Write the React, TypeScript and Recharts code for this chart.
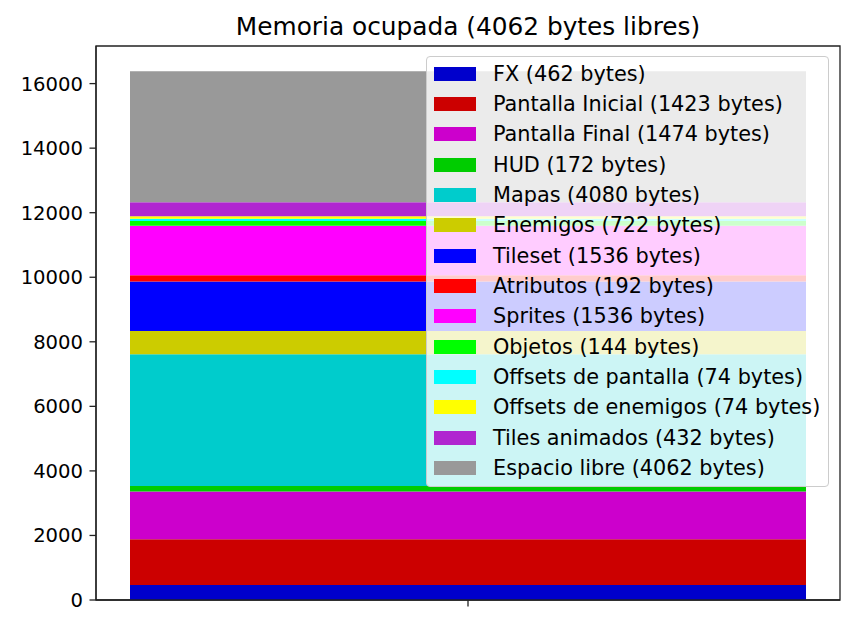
import React from 'react'
import { BarChart, Bar, XAxis, YAxis, ReferenceArea } from 'recharts'

const labels = [
  'FX', 'Pantalla Inicial', 'Pantalla Final', 'HUD', 'Mapas', 'Enemigos', 'Tileset',
  'Atributos', 'Sprites', 'Objetos', 'Offsets de pantalla', 'Offsets de enemigos',
  'Tiles animados', 'Espacio libre',
]
const sizes = [462, 1423, 1474, 172, 4080, 722, 1536, 192, 1536, 144, 74, 74, 432, 4062]
const colors = [
  '#0000cc', '#cc0000', '#cc00cc', '#00cc00', '#00cccc', '#cccc00', '#0000ff',
  '#ff0000', '#ff00ff', '#00ff00', '#00ffff', '#ffff00', '#b026d0', '#999999',
]
const yTicks = [0, 2000, 4000, 6000, 8000, 10000, 12000, 14000, 16000]
const yMax = 17165

const row: Record<string, number | string> = { name: 'memoria' }
labels.forEach((l, i) => { row['s' + i] = sizes[i] })
const data = [row]

const FONT = '"DejaVu Sans", sans-serif'
const AXIS = '#222'

function LegendBox() {
  return (
    <div style={{
      position: 'absolute', left: 426, top: 56, width: 403, height: 431,
      background: 'rgba(255,255,255,0.8)', border: '1.3px solid #cccccc', borderRadius: 4,
      boxSizing: 'border-box', paddingTop: 1.5, fontFamily: FONT, fontSize: 20.8, color: '#000',
    }}>
      {labels.map((l, i) => (
        <div key={l} style={{ height: 30.35, display: 'flex', alignItems: 'center', whiteSpace: 'nowrap' }}>
          <span style={{ display: 'inline-block', width: 42, height: 14, marginLeft: 7, marginRight: 17, background: colors[i] }} />
          <span>{`${l} (${sizes[i]} bytes)`}</span>
        </div>
      ))}
    </div>
  )
}

export default function App() {
  return (
    <div style={{ position: 'absolute', left: 0, top: 0, width: 854, height: 627, background: '#fff' }}>
      <div style={{
        position: 'absolute', left: 96, width: 744, top: 12, textAlign: 'center',
        fontFamily: FONT, fontSize: 24.8, color: '#000', lineHeight: '30px',
      }}>
        Memoria ocupada (4062 bytes libres)
      </div>
      <BarChart
        width={854}
        height={627}
        data={data}
        margin={{ top: 46, right: 14, bottom: 0, left: 0 }}
        barCategoryGap={34}
      >
        <XAxis
          dataKey="name"
          tickFormatter={() => ''}
          height={27}
          tickSize={6.5}
          axisLine={{ stroke: AXIS, strokeWidth: 1.3 }}
          tickLine={{ stroke: AXIS, strokeWidth: 1.3 }}
        />
        <YAxis
          domain={[0, yMax]}
          ticks={yTicks}
          width={96}
          tickSize={6.5}
          tickMargin={6.5}
          axisLine={{ stroke: AXIS, strokeWidth: 1.3 }}
          tickLine={{ stroke: AXIS, strokeWidth: 1.3 }}
          tick={{ fill: '#000', fontSize: 19.6, fontFamily: FONT }}
          allowDataOverflow
        />
        {labels.map((l, i) => (
          <Bar key={l} dataKey={'s' + i} name={l} stackId="mem" fill={colors[i]} isAnimationActive={false} />
        ))}
        <ReferenceArea y1={0} y2={yMax} fill="none" stroke={AXIS} strokeWidth={1.3} ifOverflow="extendDomain" />
      </BarChart>
      <LegendBox />
    </div>
  )
}
